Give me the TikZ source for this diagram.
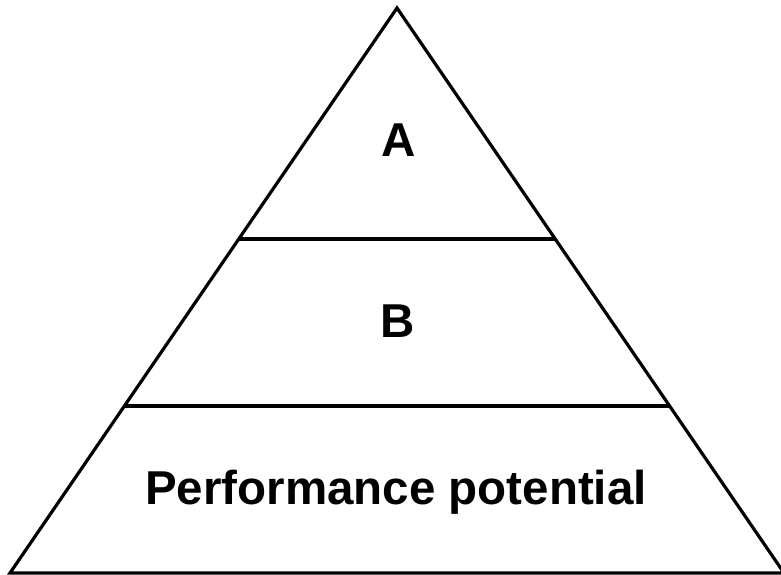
\documentclass[tikz,border=0pt]{standalone}
\usepackage{fontspec}
\setmainfont{Liberation Sans}
\usetikzlibrary{calc}
\begin{document}
\begin{tikzpicture}[x=1pt,y=1pt,
  edge/.style={line width=3.2pt, line join=miter},
  label/.style={font=\fontsize{47.5}{52}\selectfont\bfseries, anchor=base, inner sep=0pt}]
\path[use as bounding box] (0,0) rectangle (781,575);
\begin{scope}
\clip (0,0) rectangle (781,575);
\coordinate (apex) at (397,567);
\coordinate (left) at (10,2);
\coordinate (right) at (784,2);
\draw[edge] (left) -- (apex) -- (right) -- cycle;
\coordinate (l1) at ($(apex)!0.4088!(left)$);
\coordinate (r1) at ($(apex)!0.4088!(right)$);
\coordinate (l2) at ($(apex)!0.7044!(left)$);
\coordinate (r2) at ($(apex)!0.7044!(right)$);
\draw[edge] (l1) -- (r1);
\draw[edge] (l2) -- (r2);
\end{scope}
\node[label] (a) at (399,418) {A};
\node[label] (b) at (398,237) {B};
\node[label] (p) at (396,70) {Performance potential};
\end{tikzpicture}
\end{document}
